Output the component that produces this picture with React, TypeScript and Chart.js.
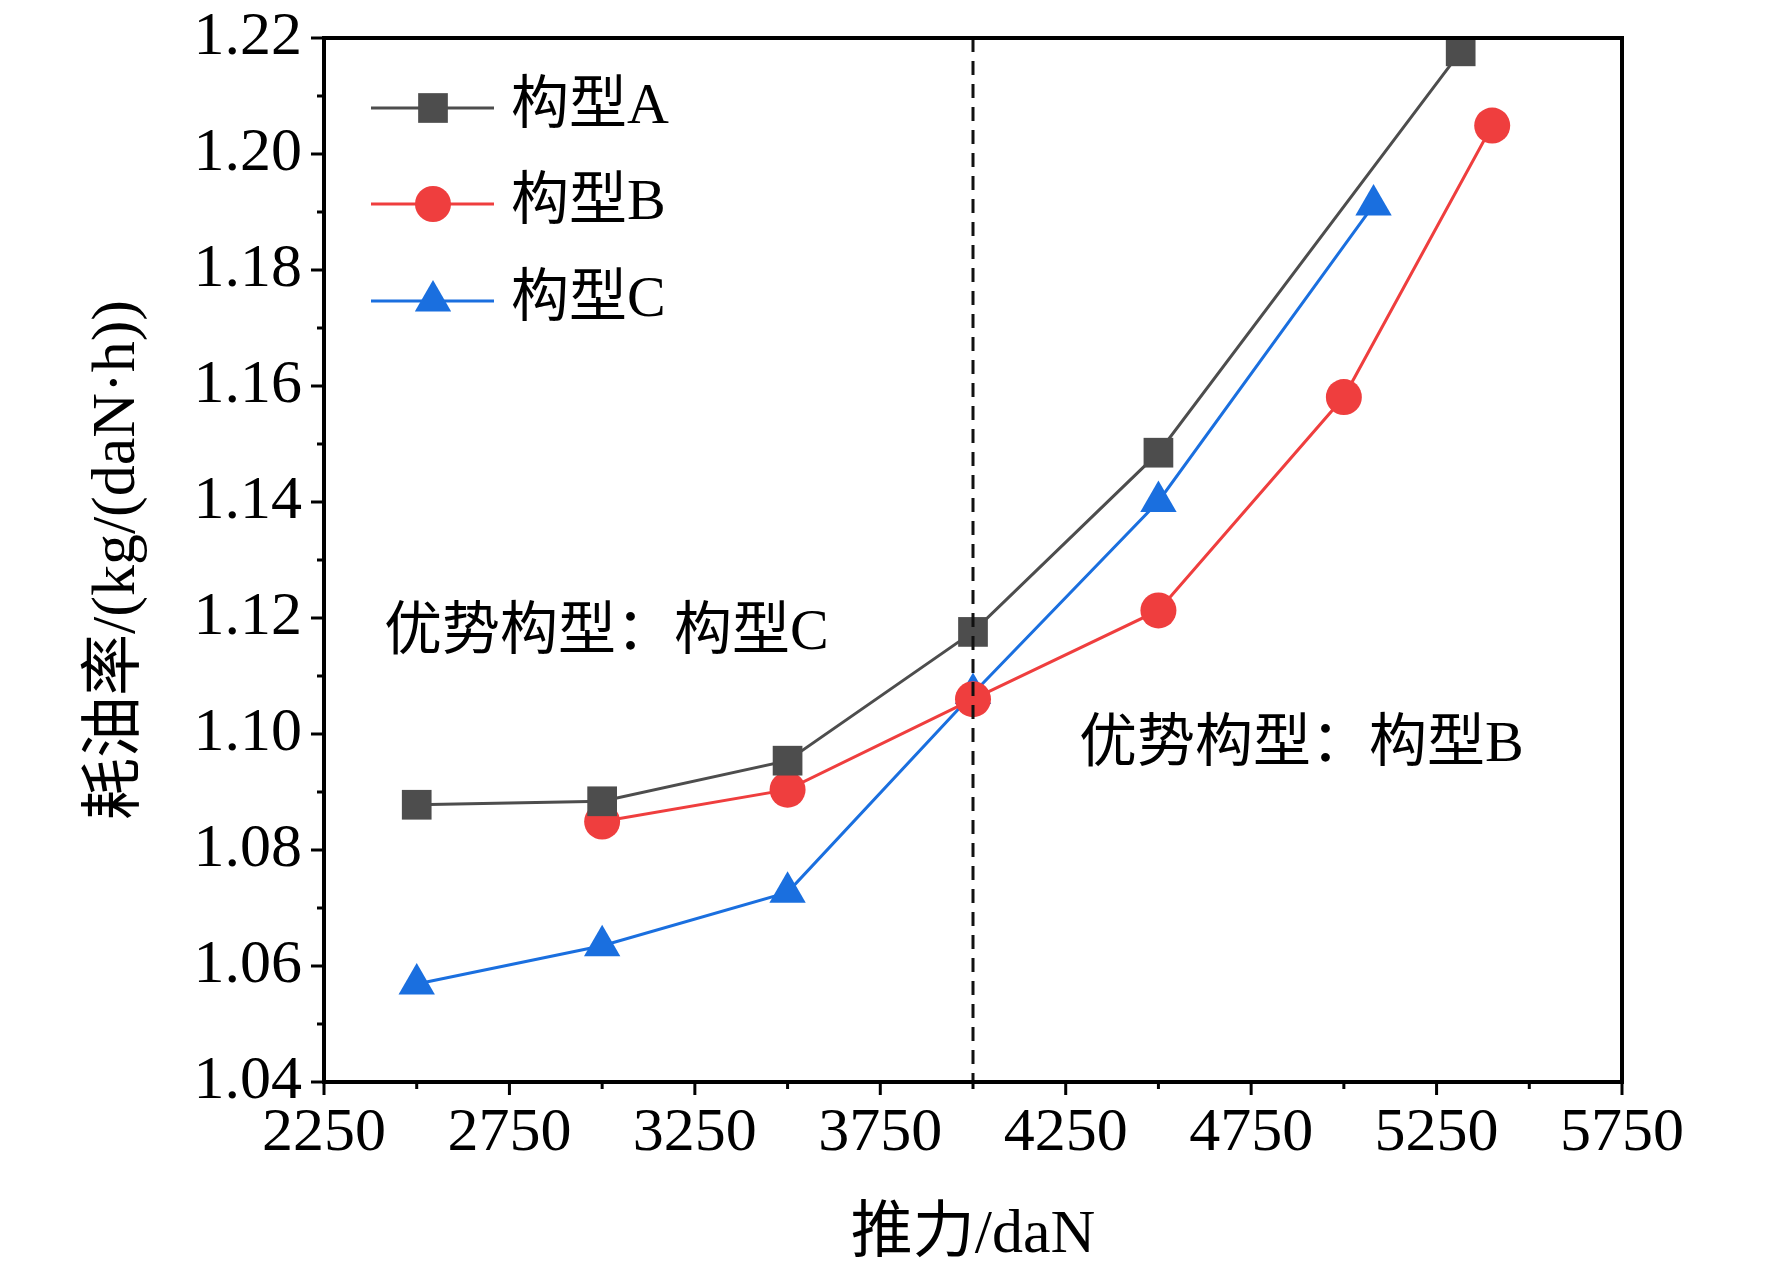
import React, { useEffect, useRef } from "react";
import { Chart, registerables } from "chart.js";
Chart.register(...registerables);

const xA = [2500, 3000, 3500, 4000, 4500, 5315];
const yA = [1.0878, 1.0884, 1.0954, 1.1176, 1.1485, 1.2177];
const xB = [3000, 3500, 4000, 4500, 5000, 5400];
const yB = [1.0849, 1.0904, 1.106, 1.1213, 1.1581, 1.2049];
const xC = [2500, 3000, 3500, 4000, 4500, 5080];
const yC = [1.0569, 1.0635, 1.0727, 1.107, 1.1401, 1.1912];
const names = ["构型A", "构型B", "构型C"];
const colors = ["#4d4d4d", "#ef3e3e", "#1a6fdf"];
const shapes = ["rect", "circle", "triangle"];
const radii = [21, 18, 21];
const xTicks = [2250, 2750, 3250, 3750, 4250, 4750, 5250, 5750];
const yTicks = [1.04, 1.06, 1.08, 1.1, 1.12, 1.14, 1.16, 1.18, 1.2, 1.22];

const FONT = '"Liberation Serif", "Noto Sans CJK SC", serif';

function marker(ctx: CanvasRenderingContext2D, shape: string, r: number, x: number, y: number) {
  ctx.beginPath();
  if (shape === "rect") {
    const s = Math.SQRT1_2 * r;
    ctx.rect(x - s, y - s, 2 * s, 2 * s);
  } else if (shape === "circle") {
    ctx.arc(x, y, r, 0, Math.PI * 2);
  } else {
    const a = Math.PI / 2;
    for (let k = 0; k < 3; k++) {
      const t = -a + (k * 2 * Math.PI) / 3;
      const px = x + Math.cos(t) * r, py = y + Math.sin(t) * r;
      k ? ctx.lineTo(px, py) : ctx.moveTo(px, py);
    }
    ctx.closePath();
  }
  ctx.fill();
}

export default function App() {
  const ref = useRef<HTMLCanvasElement>(null);
  useEffect(() => {
    const pts = (xs: number[], ys: number[]) => xs.map((x, i) => ({ x, y: ys[i] }));
    const series = [pts(xA, yA), pts(xB, yB), pts(xC, yC)];
    const deco = {
      id: "deco",
      afterDraw(c: any) {
        const ctx = c.ctx;
        const xs = c.scales.x, ys = c.scales.y;
        const { left, right, top, bottom } = c.chartArea;
        ctx.save();
        ctx.strokeStyle = "#111";
        ctx.lineWidth = 3;
        ctx.setLineDash([14, 9]);
        const dx = xs.getPixelForValue(4000);
        ctx.beginPath(); ctx.moveTo(dx, top); ctx.lineTo(dx, bottom); ctx.stroke();
        ctx.setLineDash([]);
        ctx.strokeStyle = "#000";
        ctx.lineWidth = 4;
        ctx.strokeRect(left, top, right - left, bottom - top);
        ctx.lineWidth = 3;
        ctx.fillStyle = "#000";
        ctx.font = "62px " + FONT;
        ctx.textAlign = "center"; ctx.textBaseline = "middle";
        for (let v = 2250; v <= 5750; v += 250) {
          const p = xs.getPixelForValue(v);
          const major = (v - 2250) % 500 === 0;
          ctx.beginPath(); ctx.moveTo(p, bottom); ctx.lineTo(p, bottom + (major ? 13 : 7)); ctx.stroke();
        }
        xTicks.forEach(v => ctx.fillText(String(v), xs.getPixelForValue(v), bottom + 52));
        for (let i = 0; i <= 18; i++) {
          const v = 1.04 + i * 0.01;
          const p = ys.getPixelForValue(v);
          const major = i % 2 === 0;
          ctx.beginPath(); ctx.moveTo(left, p); ctx.lineTo(left - (major ? 13 : 7), p); ctx.stroke();
        }
        ctx.textAlign = "right";
        yTicks.forEach(v => ctx.fillText(v.toFixed(2), left - 22, ys.getPixelForValue(v)));
        ctx.textAlign = "center";
        ctx.fillText("推力/daN", (left + right) / 2, 1236);
        ctx.save();
        ctx.translate(118, (top + bottom) / 2);
        ctx.rotate(-Math.PI / 2);
        ctx.fillText("耗油率/(kg/(daN·h))", 0, 0);
        ctx.restore();
        ctx.textAlign = "left";
        ctx.font = "58px " + FONT;
        ctx.fillText("优势构型：构型C", 384, 634);
        ctx.fillText("优势构型：构型B", 1079, 746);
        const ly = [108, 204, 301];
        names.forEach((n, i) => {
          ctx.strokeStyle = colors[i]; ctx.lineWidth = 3;
          ctx.beginPath(); ctx.moveTo(371, ly[i]); ctx.lineTo(494, ly[i]); ctx.stroke();
          ctx.fillStyle = colors[i];
          marker(ctx, shapes[i], radii[i], 433, ly[i]);
          ctx.fillStyle = "#000";
          ctx.fillText(n, 511, ly[i]);
        });
        ctx.restore();
      },
    };
    const chart = new Chart(ref.current!, {
      type: "line",
      data: {
        datasets: series.map((d, i) => ({
          label: names[i], data: d, borderColor: colors[i], backgroundColor: colors[i],
          borderWidth: 3, pointStyle: shapes[i] as any, pointRadius: radii[i], pointBorderWidth: 0,
        })),
      },
      options: {
        animation: false, responsive: false,
        layout: { padding: { left: 324, right: 150, top: 38, bottom: 190 } },
        plugins: { legend: { display: false }, tooltip: { enabled: false } },
        scales: {
          x: { type: "linear", min: 2250, max: 5750, display: false },
          y: { min: 1.04, max: 1.22, display: false },
        },
      },
      plugins: [deco],
    });
    return () => chart.destroy();
  }, []);
  return (
    <div style={{ position: "fixed", left: 0, top: 0, width: 1772, height: 1272, background: "#fff" }}>
      <canvas ref={ref} width={1772} height={1272} />
    </div>
  );
}
